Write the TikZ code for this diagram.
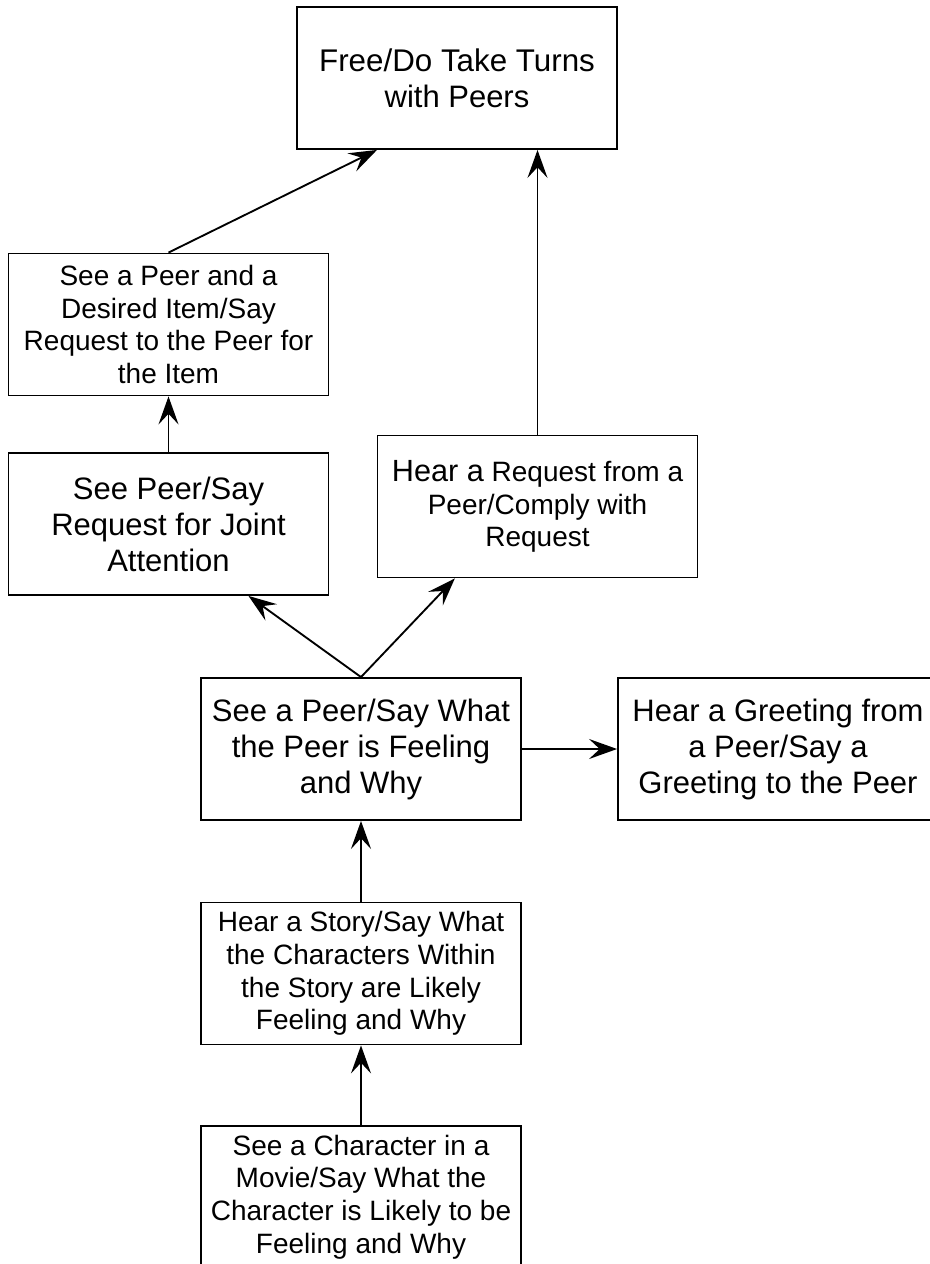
\documentclass[tikz,border=0pt]{standalone}
\usepackage{fontspec}
\setmainfont{Liberation Sans}
\usetikzlibrary{arrows.meta}

\begin{document}
\begin{tikzpicture}
		[x=0.75pt,y=-0.75pt,line width=1.4pt,
		%Styles
		box/.style={draw,line width=1.4pt,minimum width=240pt,minimum height=106.5pt,inner sep=0pt,align=center},
		big text/.style={font=\fontsize{23.25}{27}\selectfont},
		small text/.style={font=\fontsize{21}{24.6}\selectfont},
		link/.style={-{Stealth[length=21pt,width=15pt,inset=8pt]}}
		]
		
		%The page
		\useasboundingbox (0,0) rectangle (930,1264);
		
		%The boxes
		\node[box,big text] (turns) at (457,78) {\fontsize{23.5}{28.5}\selectfont Free/Do Take Turns\\with Peers};
		\node[box,small text] (item) at (168.5,324.5) {See a Peer and a\\Desired Item/Say\\Request to the Peer for\\the Item};
		\node[box,big text] (joint) at (168.5,524) {See Peer/Say\\Request for Joint\\Attention};
		\node[box,small text] (comply) at (537.5,506.5) {{\fontsize{23}{24.6}\selectfont Hear a} Request from a\\Peer/Comply with\\Request};
		\node[box,big text] (feel) at (361,749) {\fontsize{23.25}{27.5}\selectfont See a Peer/Say What\\the Peer is Feeling\\and Why};
		\node[box,big text] (greet) at (778,749) {\fontsize{23.25}{27.5}\selectfont Hear a Greeting from\\a Peer/Say a\\Greeting to the Peer};
		\node[box,small text] (story) at (361,973.5) {Hear a Story/Say What\\the Characters Within\\the Story are Likely\\Feeling and Why};
		\node[box,small text] (movie) at (361,1197) {See a Character in a\\Movie/Say What the\\Character is Likely to be\\Feeling and Why};
		
		%The arrows
		\draw[link] (item.north) -- ([xshift=-60pt]turns.south);
		\draw[link] (comply.north) -- (comply.north |- turns.south);
		\draw[link] (joint.north) -- (item.south);
		\draw[link] (feel.north) -- ([xshift=60pt]joint.south);
		\draw[link] (feel.north) -- ([xshift=-62pt]comply.south);
		\draw[link] (feel.east) -- (greet.west);
		\draw[link] (story.north) -- (feel.south);
		\draw[link] (movie.north) -- (story.south);
	\end{tikzpicture}
\end{document}
